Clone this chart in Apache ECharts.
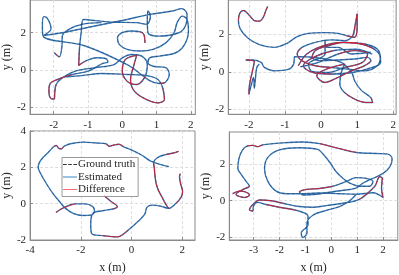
<!DOCTYPE html>
<html><head><meta charset="utf-8">
<script src="https://cdn.jsdelivr.net/npm/echarts@6/dist/echarts.min.js"></script>
<style>html,body{margin:0;padding:0;background:#fff}#c{width:399px;height:275px}</style>
</head><body><div id="c"></div>
<script>
// ---- data (metres) ----
const seriesNames = ['Ground truth', 'Estimated', 'Difference'];
const axisLabelX = 'x (m)', axisLabelY = 'y (m)';

const tlTicksX = [-2, -1, 0, 1, 2], tlTicksY = [-2, 0, 2];
const trTicksX = [-2, -1, 0, 1, 2], trTicksY = [-2, 0, 2];
const blTicksX = [-4, -2, 0, 2], blTicksY = [-2, 0, 2, 4];
const brTicksX = [-3, -2, -1, 0, 1, 2], brTicksY = [-2, 0, 2];

const tlPath = [[0.66,1.46],[0.63,1.91],[0.52,2.05],[0.24,2.09],[0.0,2.0],[-0.14,1.73],[-0.09,1.38],[0.14,1.11],[0.52,1.02],[0.90,1.11],
[1.27,1.46],[1.51,2.0],[1.60,2.54],[1.75,2.89],[1.89,2.71],[1.93,2.09],[1.82,1.38],[1.56,0.93],[1.08,0.75],[0.80,0.66],
[0.75,0.39],[0.90,0.21],[1.27,0.13],[1.37,-0.23],[1.23,-0.68],[1.08,-0.71],[0.14,0.30],[-1.08,1.29],[-2.31,1.82],[-2.33,2.36],
[-2.29,2.86],[-2.20,2.80],[-2.10,2.45],[-2.08,2.18],[-2.17,2.0],[-2.29,1.86],[-1.75,2.0],[-0.80,2.36],[0.14,2.71],[0.80,2.98],
[1.46,3.16],[1.73,3.29],[1.89,2.98],[1.84,2.36],[1.65,2.0],[1.08,1.82],[0.75,2.0],[0.73,2.71],[0.75,3.16],[0.82,2.89],
[0.71,2.45],[0.42,2.54],[-0.33,2.57],[-1.13,2.71],[-1.20,2.0],[-1.25,1.11],[-1.27,0.25],[-1.08,0.48],[-0.75,0.66],[-0.47,0.61],
[-0.42,0.43],[-0.57,0.36],[-0.99,-0.05],[-1.46,-0.23],[-1.89,-0.50],[-2.10,-0.71],[-2.14,-1.13],[-2.08,-1.52],[-1.98,-1.54],[-1.97,-1.21],
[-1.93,-0.77],[-1.75,-0.41],[-1.37,-0.05],[-0.80,0.13],[-0.24,0.30],[0.0,0.66],[0.28,0.84],[0.57,0.75],[0.73,0.30],[0.66,-0.36],
[0.42,-0.77],[0.14,-0.59],[0.0,-0.05],[0.09,0.57],[0.42,0.79],[0.33,0.21],[0.24,-0.50],[0.33,-1.07],[0.61,-1.48],[1.04,-1.75],
[1.23,-1.57],[1.18,-0.95],[1.04,-0.50],[0.71,-0.29],[0.14,-0.23],[-0.61,-0.18],[-1.18,-0.29],[-1.65,-0.36],
null,
[-1.98,0.93],[-1.84,0.71],[-1.76,1.29],[-1.75,1.82],[-1.56,2.18],[-1.18,2.45],[-0.61,2.54]];
const tlDiffRanges = [[0,2],[24,25],[55,57],[63,70],[79,91],[99,100]];

const trPath = [[-1.48,3.48],[-1.53,3.27],[-1.60,2.91],[-1.71,2.70],[-1.85,2.73],[-1.98,3.0],[-2.15,3.27],[-2.25,3.13],[-2.29,2.73],[-2.24,2.29],
[-2.03,1.80],[-1.71,1.45],[-1.30,1.30],[-0.94,1.52],[-0.66,1.88],[-0.35,2.05],[0.11,2.09],[0.47,2.05],[0.70,1.93],[0.93,1.84],
[1.0,2.46],[1.0,3.09],[0.95,2.55],[0.88,1.93],[0.65,1.66],[0.29,1.70],[-0.16,1.57],[-0.53,1.30],[-0.66,0.95],[-0.53,0.59],
[-0.16,0.32],[0.29,0.23],[0.75,0.14],[1.20,0.05],[1.56,0.32],[1.64,0.77],[1.47,1.21],[1.11,1.48],[0.65,1.57],[0.20,1.39],
[-0.16,1.13],[-0.25,0.77],[0.02,0.59],[0.47,0.63],[0.93,0.68],[1.29,0.77],[1.38,0.59],[1.20,0.32],[0.84,0.05],[0.47,-0.30],
[0.11,-0.57],[-0.12,-0.21],[0.15,0.14],[0.65,0.41],[0.56,-0.04],[0.52,-0.66],[0.65,-1.11],[0.93,-1.46],[1.25,-1.64],[1.43,-1.64],
[1.38,-1.38],[1.11,-0.98],[0.93,-0.48],[0.85,-0.04],[0.56,0.50],[0.11,0.68],[-0.44,0.80],[-0.73,0.80],[-0.76,0.41],[-0.89,0.14],
[-1.30,0.05],[-1.57,0.23],[-1.66,0.50],[-1.89,0.63],[-2.09,0.63],[-1.85,0.55],[-1.91,-0.04],[-1.98,-0.66],[-2.0,-1.20],[-1.94,-0.75],
[-1.87,-0.30],[-1.85,-0.88],[-1.82,-0.39],[-1.78,0.23],[-1.71,0.41],
null,
[-0.57,0.27],[-0.07,0.50],[0.47,0.95],[0.93,1.13],[1.29,0.95],[1.15,0.50],[0.65,0.23],[0.20,-0.04],[-0.25,0.02],[-0.35,0.41],
[0.11,0.95],[0.11,1.70],[0.15,1.30],[0.47,1.30],[0.84,0.95],[1.38,1.04],
null,
[-0.63,0.32],[-0.40,0.94],[0.05,1.38],[0.60,1.56],[1.24,1.47],[1.60,1.12],[1.65,0.50],[1.42,0.23],[0.87,-0.04],[0.33,-0.12],
[-0.22,-0.04],[-0.49,0.32],[-0.22,0.76],[0.33,1.12],[0.96,1.20],[1.42,0.94]];
const trDiffRanges = [[0,8],[18,23],[27,31],[36,41],[46,53],[56,60],[74,78],[88,92],[103,107],[112,116]];

const blPath = [[-1.07,0.43],[-0.82,0.13],[-0.56,-0.17],[-0.69,-0.28],[-1.14,-0.39],[-1.52,-0.53],[-1.61,-1.12],[-1.57,-1.65],[-1.14,-1.76],[-0.56,-1.83],
[-0.12,-1.44],[0.26,-0.97],[0.52,-0.58],[0.61,-0.19],[0.83,-0.08],[1.15,-0.14],[1.47,-0.26],[1.73,-0.01],[1.95,0.35],[2.01,0.67],
[1.94,1.06],[1.89,1.47],[1.92,1.65],
null,
[-2.98,-0.49],[-2.73,-0.26],[-2.22,-0.01],[-1.84,-0.01],[-1.54,-0.15],[-1.46,-0.40],[-1.58,-0.62],[-1.90,-0.65],[-2.28,-0.55],[-2.60,-0.26],
[-2.85,0.13],[-3.11,0.58],[-3.36,1.11],[-3.58,1.65],[-3.68,2.0],[-3.63,2.27],[-3.49,2.54],[-3.24,2.89],[-3.05,3.16],[-2.96,3.20],
[-2.88,3.06],[-2.77,3.02],[-2.66,3.16],[-2.41,3.30],[-1.90,3.39],[-1.39,3.34],[-1.01,3.30],[-0.88,3.16],[-0.69,3.23],[-0.50,3.27],
[-0.31,3.13],[0.01,2.95],[0.39,2.68],[0.73,2.36],[1.09,2.18],[1.47,2.04],
null,
[1.85,2.88],[1.66,2.79],[1.34,2.70],[1.03,2.54],[0.87,2.24],[0.90,1.91],[0.92,1.56],[0.97,1.11],[1.05,0.76],[1.22,0.31],
[1.37,-0.08],[1.47,-0.26]];
const blDiffRanges = [[0,3],[8,10],[17,22],[24,26],[42,46],[50,54],[61,63],[65,72]];

const brPath = [[-3.81,0.39],[-3.55,0.53],[-3.35,0.50],[-3.16,0.32],[-3.35,0.18],[-3.68,0.36],[-3.42,0.62],[-3.16,0.80],[-3.29,1.07],[-3.48,1.46],
[-3.61,1.78],[-3.57,2.31],[-3.45,2.76],[-3.26,3.02],[-3.03,3.06],[-2.84,2.99],[-2.65,3.09],[-1.87,3.20],[-1.10,3.25],[-0.45,3.16],
[0.32,2.88],[0.97,2.67],[1.74,2.61],[2.19,2.58],[2.35,2.31],[2.26,1.87],[2.0,1.51],[1.61,1.24],[1.23,0.98],[0.97,0.71],
[0.71,0.62],[0.06,0.50],[-0.58,0.36],[-1.10,0.32],[-1.23,0.50],[-0.97,0.62],[-0.45,0.68],[0.06,0.80],[0.58,1.07],[0.97,1.28],
[1.35,1.24],[1.61,1.07],[1.48,0.80],[1.10,0.80],[0.71,0.98],[0.45,1.24],[0.19,1.60],[-0.06,2.13],[-0.32,2.58],[-0.52,2.84],
[-1.23,2.93],[-2.0,2.81],[-2.45,2.40],[-2.58,1.78],[-2.45,1.07],[-2.13,0.53],[-1.74,0.39],[-1.23,0.39],[-0.45,0.43],[0.32,0.39],
[0.97,0.36],[1.61,0.44],[2.0,0.18],[1.94,0.71],[1.97,1.24],[1.87,1.33],[1.68,0.80],[1.10,0.09],[0.45,-0.14],[-0.19,-0.27],
[-0.71,-0.36],[-1.23,-0.32],[-1.87,-0.14],[-2.32,0.0],[-2.77,0.04],[-3.03,-0.21],[-3.16,-0.50],[-3.03,-0.57],[-3.01,-0.32],[-2.84,-0.09],
[-2.52,-0.21],[-2.0,-0.36],[-1.35,-0.53],[-0.90,-0.85],[-0.90,-1.33],[-1.16,-1.78],[-1.10,-2.04],[-0.94,-1.78],[-0.94,-1.24],[-0.71,-0.80],
[-0.19,-0.53],[0.32,-0.32],[0.71,0.0],[0.97,0.36]];
const brDiffRanges = [[0,7],[13,16],[19,21],[34,37],[62,67],[72,77],[80,82]];

// ---- chart ----
const FONT = 'Liberation Serif';
const panels = [
  {path: tlPath, diff: tlDiffRanges, xr: [-2.69, 2.13], yr: [-2.36, 3.75], tx: tlTicksX, ty: tlTicksY, grid: {left: 25, top: 0, width: 170.3, height: 114.3}, xname: false},
  {path: trPath, diff: trDiffRanges, xr: [-2.57, 2.08], yr: [-2.27, 3.83], tx: trTicksX, ty: trTicksY, grid: {left: 228.3, top: 0, width: 170.2, height: 114.3}, xname: false},
  {path: blPath, diff: blDiffRanges, xr: [-4, 2.5], yr: [-2, 4], tx: blTicksX, ty: blTicksY, grid: {left: 25, top: 131, width: 170, height: 112.3}, xname: true},
  {path: brPath, diff: brDiffRanges, xr: [-3.94, 2.57], yr: [-2.17, 3.8], tx: brTicksX, ty: brTicksY, grid: {left: 229.3, top: 132, width: 168.5, height: 112}, xname: true}
];
const axisCol = '#8a8a8a', textCol = '#262626';
const blue = '#3a7cc0', red = '#e8141e', dark = '#1a1a1a';
const grids = [], xAxes = [], yAxes = [], series = [];
panels.forEach((p, i) => {
  grids.push(Object.assign({show: true, borderColor: axisCol, borderWidth: 1, backgroundColor: 'transparent'}, p.grid));
  const common = {
    type: 'value', gridIndex: i,
    axisLine: {show: true, onZero: false, lineStyle: {color: axisCol, width: 1}},
    axisTick: {show: true, inside: true, length: 3, lineStyle: {color: axisCol}},
    splitLine: {show: true, lineStyle: {color: '#dedede', type: [3, 2], width: 1}},
    axisLabel: {color: textCol, fontFamily: FONT, fontSize: 11, margin: 4},
    nameTextStyle: {color: textCol, fontFamily: FONT, fontSize: 12}
  };
  xAxes.push(Object.assign({}, common, {
    min: p.xr[0], max: p.xr[1], position: 'bottom',
    axisTick: Object.assign({}, common.axisTick, {customValues: p.tx}),
    axisLabel: Object.assign({}, common.axisLabel, {customValues: p.tx, margin: 5}),
    name: p.xname ? axisLabelX : '', nameLocation: 'middle', nameGap: 22
  }));
  yAxes.push(Object.assign({}, common, {
    min: p.yr[0], max: p.yr[1], position: 'left',
    axisTick: Object.assign({}, common.axisTick, {customValues: p.ty}),
    axisLabel: Object.assign({}, common.axisLabel, {customValues: p.ty}),
    name: axisLabelY, nameLocation: 'middle', nameGap: 15, nameRotate: 90
  }));
  const diffData = [];
  p.diff.forEach(r => { for (let k = r[0]; k <= r[1]; k++) diffData.push(p.path[k]); diffData.push(null); });
  const base = {type: 'line', xAxisIndex: i, yAxisIndex: i, symbol: 'none', showSymbol: false, smooth: 0.35, connectNulls: false, animation: false, silent: true};
  series.push(Object.assign({}, base, {name: seriesNames[1], data: p.path, lineStyle: {color: blue, width: 1.4}, itemStyle: {color: blue}, z: 2}));
  series.push(Object.assign({}, base, {name: seriesNames[0], data: p.path, lineStyle: {color: dark, width: 0.9, type: [3, 2], opacity: 0.4}, itemStyle: {color: dark}, z: 3}));
  series.push(Object.assign({}, base, {name: seriesNames[2], data: diffData, lineStyle: {color: red, width: 1, opacity: 0.8}, itemStyle: {color: red}, z: 4}));
});
const chart = echarts.init(document.getElementById('c'), null, {renderer: 'canvas'});
chart.setOption({
  animation: false,
  grid: grids, xAxis: xAxes, yAxis: yAxes, series: series,
  legend: {
    data: [
      {name: seriesNames[0], icon: 'path://M0,0h3.5v1h-3.5zM5,0h3.5v1h-3.5zM10,0h3.5v1h-3.5z', itemStyle: {color: '#333'}},
      {name: seriesNames[1], icon: 'path://M0,0h14v1h-14z', itemStyle: {color: '#3b82c4'}},
      {name: seriesNames[2], icon: 'path://M0,0h14v1h-14z', itemStyle: {color: '#ff6b70'}}
    ],
    left: 62, top: 157.5, orient: 'vertical',
    itemWidth: 14, itemHeight: 2, itemGap: 0.5, padding: [1, 3, 1, 1],
    backgroundColor: '#fff', borderColor: '#9a9a9a', borderWidth: 1,
    textStyle: {fontFamily: FONT, fontSize: 11, color: textCol, lineHeight: 12, padding: [0, 0, 0, -4]},
    selectedMode: false
  }
});
</script></body></html>
